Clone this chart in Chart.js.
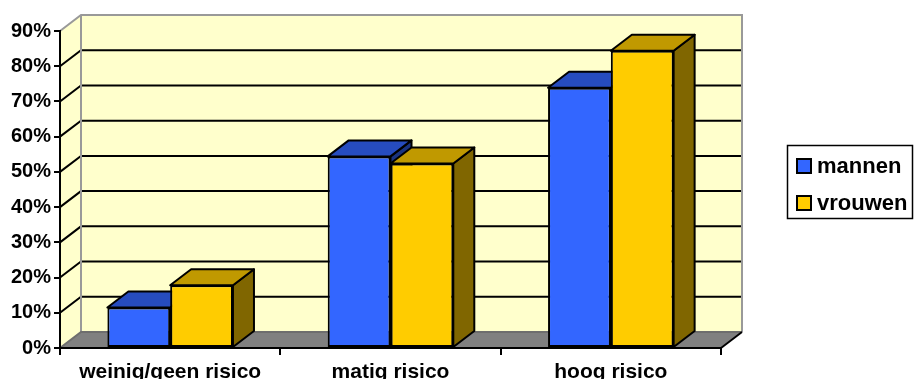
<!DOCTYPE html>
<html>
<head>
<meta charset="utf-8">
<script src="https://cdn.jsdelivr.net/npm/chart.js@4"></script>
<style>
  html, body { margin: 0; padding: 0; background: #fff; }
  #wrap { width: 915px; height: 379px; }
</style>
</head>
<body>
<div id="wrap"><canvas id="riskChart" width="915" height="379"></canvas></div>
<script>
const categories = ["weinig/geen risico", "matig risico", "hoog risico"];
const mannen = [11.5, 54.4, 73.9];
const vrouwen = [17.8, 52.4, 84.4];
const Y_MAX = 90;
const Y_STEP = 10;

const FONT = "'Liberation Sans', Arial, sans-serif";
const DX = 21, DY = -16;   // 3d depth of walls and bars
const WALL = "#FFFFCC";
const FLOOR = "#808080";
const EDGE = "#999999";

// darker shades for top and side of the bars
const shades = {
    "#3366FF": { top: "#264CBF", side: "#1A3380" },
    "#FFCC00": { top: "#C09900", side: "#806600" }
};

function poly(ctx, pts) {
    ctx.beginPath();
    ctx.moveTo(pts[0][0], pts[0][1]);
    for (let i = 1; i < pts.length; i++) ctx.lineTo(pts[i][0], pts[i][1]);
    ctx.closePath();
}

function line(ctx, pts, color, width) {
    ctx.beginPath();
    ctx.moveTo(pts[0][0], pts[0][1]);
    for (let i = 1; i < pts.length; i++) ctx.lineTo(pts[i][0], pts[i][1]);
    ctx.strokeStyle = color;
    ctx.lineWidth = width;
    ctx.stroke();
}

const depthPlugin = {
    id: "depth",
    beforeDraw(chart) {
        const ctx = chart.ctx;
        const a = chart.chartArea;
        const y = chart.scales.y;
        ctx.save();

        // walls and floor
        ctx.fillStyle = WALL;
        poly(ctx, [[a.left + DX, a.top + DY], [a.right + DX, a.top + DY], [a.right + DX, a.bottom + DY], [a.left + DX, a.bottom + DY]]);
        ctx.fill();
        poly(ctx, [[a.left, a.top], [a.left + DX, a.top + DY], [a.left + DX, a.bottom + DY], [a.left, a.bottom]]);
        ctx.fill();
        ctx.fillStyle = FLOOR;
        poly(ctx, [[a.left, a.bottom], [a.left + DX, a.bottom + DY], [a.right + DX, a.bottom + DY], [a.right, a.bottom]]);
        ctx.fill();

        // gridlines on left wall and back wall
        y.ticks.forEach(t => {
            if (t.value <= 0 || t.value >= Y_MAX) return;
            const py = y.getPixelForValue(t.value);
            line(ctx, [[a.left, py], [a.left + DX, py + DY], [a.right + DX, py + DY]], "#000", 2);
        });

        // edges
        line(ctx, [[a.left, a.top], [a.left + DX, a.top + DY], [a.right + DX, a.top + DY], [a.right + DX, a.bottom + DY]], EDGE, 2);
        line(ctx, [[a.left + DX, a.top + DY], [a.left + DX, a.bottom + DY]], EDGE, 2);
        line(ctx, [[a.left, a.bottom], [a.left + DX, a.bottom + DY], [a.right + DX, a.bottom + DY]], "#6E6E6E", 2);
        line(ctx, [[a.right, a.bottom], [a.right + DX, a.bottom + DY]], "#000", 2);
        ctx.restore();
    },
    beforeDatasetsDraw(chart) {
        const ctx = chart.ctx;
        ctx.save();
        ctx.lineJoin = "round";
        ctx.lineWidth = 2;
        ctx.strokeStyle = "#000";
        const n = chart.data.labels.length;
        for (let i = 0; i < n; i++) {
            chart.data.datasets.forEach((ds, di) => {
                const bar = chart.getDatasetMeta(di).data[i];
                const p = bar.getProps(["x", "y", "base", "width"], true);
                const x0 = p.x - p.width / 2, x1 = p.x + p.width / 2;
                const sh = shades[ds.backgroundColor];
                ctx.fillStyle = sh.side;
                poly(ctx, [[x1, p.y], [x1 + DX, p.y + DY], [x1 + DX, p.base + DY], [x1, p.base]]);
                ctx.fill(); ctx.stroke();
                ctx.fillStyle = sh.top;
                poly(ctx, [[x0, p.y], [x0 + DX, p.y + DY], [x1 + DX, p.y + DY], [x1, p.y]]);
                ctx.fill(); ctx.stroke();
            });
        }
        ctx.restore();
    },
    afterDraw(chart) {
        // legend box
        const ctx = chart.ctx;
        ctx.save();
        ctx.strokeStyle = "#000";
        ctx.lineWidth = 1.5;
        ctx.strokeRect(787.5, 145.5, 125, 73);
        ctx.font = "bold 22px " + FONT;
        ctx.textBaseline = "middle";
        ctx.fillStyle = "#000";
        const rows = [166, 203];
        chart.data.datasets.forEach((ds, i) => {
            const cy = rows[i];
            ctx.fillStyle = ds.backgroundColor;
            ctx.fillRect(797, cy - 7, 14, 14);
            ctx.lineWidth = 2;
            ctx.strokeRect(797, cy - 7, 14, 14);
            ctx.fillStyle = "#000";
            ctx.fillText(ds.label, 817, cy + 1);
        });
        ctx.restore();
    }
};

new Chart(document.getElementById("riskChart"), {
    type: "bar",
    data: {
        labels: categories,
        datasets: [
            { label: "mannen", data: mannen, backgroundColor: "#3366FF" },
            { label: "vrouwen", data: vrouwen, backgroundColor: "#FFCC00" }
        ]
    },
    options: {
        responsive: false,
        animation: false,
        events: [],
        layout: { padding: { left: 0, top: 31, right: 194, bottom: 0 } },
        datasets: {
            bar: {
                categoryPercentage: 0.57,
                barPercentage: 1.0,
                borderColor: "#000",
                borderWidth: 2,
                borderSkipped: false
            }
        },
        plugins: {
            legend: { display: false },
            tooltip: { enabled: false }
        },
        scales: {
            x: {
                afterFit(s) { s.height = 31; },
                grid: { offset: true, drawOnChartArea: false, drawTicks: true, tickLength: 7, color: "#000", lineWidth: 2 },
                border: { display: true, color: "#000", width: 2 },
                ticks: { color: "#000", padding: 5, font: { family: FONT, size: 21, weight: "bold" } }
            },
            y: {
                min: 0,
                max: Y_MAX,
                afterFit(s) { s.width = 60; },
                grid: { drawOnChartArea: false, drawTicks: true, tickLength: 6, color: "#000", lineWidth: 2 },
                border: { display: true, color: "#000", width: 2 },
                ticks: {
                    stepSize: Y_STEP,
                    color: "#000",
                    padding: 3,
                    font: { family: FONT, size: 20, weight: "bold" },
                    callback: v => v + "%"
                }
            }
        }
    },
    plugins: [depthPlugin]
});
</script>
</body>
</html>
